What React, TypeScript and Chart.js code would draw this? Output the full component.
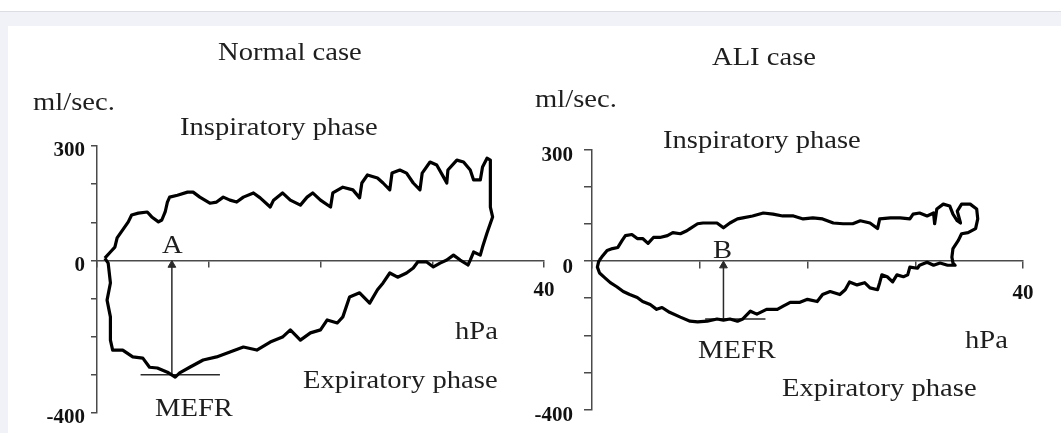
import React, { useEffect, useRef } from 'react';
import { Chart, registerables } from 'chart.js';

Chart.register(...registerables);

// ---------- data ----------
const pressureTicks = [0, 10, 20, 30, 40];
const pressureLabelled = [40];
const flowTicks = [300, 200, 100, 0, -100, -200, -300, -400];
const flowLabelled = [300, 0, -400];

// Normal case loop (hPa, ml/sec.)
const normalInspPressure = [0.7, 1.2, 1.6, 1.8, 2.3, 2.8, 3.1, 3.7, 4.5, 4.9, 5.5, 5.8, 6.1, 6.3, 6.5, 7.2, 8.1, 8.6, 9.2, 10.1, 10.7, 11.3, 11.9, 12.5, 13.1, 14.0, 14.6, 15.5, 15.8, 16.6, 17.3, 18.2, 18.8, 19.3, 20.0, 20.9, 21.1, 22.0, 22.9, 23.5, 23.7, 24.2, 25.1, 25.6, 26.2, 26.4, 27.1, 27.7, 28.3, 28.9, 29.1, 29.8, 30.4, 31.0, 31.3, 31.4, 32.2, 32.8, 33.4, 33.7, 34.3, 34.5, 34.9, 35.2, 35.2, 35.4, 34.9, 34.5, 34.3, 33.7, 33.4];
const normalInspFlow = [6, 22, 35, 59, 80, 101, 119, 124, 127, 114, 101, 106, 127, 153, 166, 171, 179, 179, 166, 150, 153, 166, 158, 153, 166, 177, 164, 140, 158, 177, 158, 145, 166, 177, 158, 140, 177, 192, 185, 164, 203, 224, 216, 203, 185, 229, 237, 229, 203, 185, 229, 258, 250, 219, 203, 237, 263, 258, 237, 211, 211, 245, 268, 263, 140, 114, 72, 35, 14, 22, 1];
const normalExpPressure = [33.2, 32.5, 31.9, 31.3, 30.7, 30.1, 29.5, 28.7, 28.3, 27.7, 26.9, 26.2, 25.6, 25.1, 24.4, 23.5, 22.6, 22.0, 21.5, 20.6, 20.0, 19.1, 18.2, 17.3, 16.6, 15.5, 14.3, 13.1, 11.9, 10.7, 9.5, 8.3, 7.4, 7.0, 6.3, 5.4, 4.7, 4.1, 3.2, 2.3, 1.4, 1.2, 1.2, 0.9, 1.2, 1.0, 0.7];
const normalExpFlow = [-12, 1, 14, 1, -7, -17, -4, -4, -20, -33, -44, -33, -59, -77, -112, -85, -96, -148, -164, -156, -182, -190, -209, -182, -201, -214, -235, -227, -240, -253, -261, -280, -295, -306, -293, -282, -280, -256, -253, -235, -235, -209, -148, -104, -59, -7, 6];
const normalMefrPressure = 6.7;
const normalMefrFlow = -300;
const normalMefrBar = [3.9, 11.0];

// ALI case loop (hPa, ml/sec.)
const aliInspPressure = [0.7, 0.9, 1.4, 1.9, 2.4, 2.8, 3.1, 3.7, 4.2, 4.7, 5.2, 5.7, 6.3, 7.0, 7.5, 8.2, 8.8, 9.1, 9.8, 10.3, 11.0, 11.6, 12.2, 12.8, 13.5, 14.0, 14.9, 15.9, 16.8, 17.7, 18.7, 19.6, 20.5, 21.4, 22.4, 23.3, 24.2, 24.9, 25.8, 26.5, 26.7, 27.7, 28.6, 29.5, 29.8, 30.4, 31.1, 31.7, 31.8, 32.0, 32.6, 33.2, 33.5, 33.9, 34.2, 33.9, 34.3, 35.1, 35.7, 35.8, 35.6, 34.9, 34.3, 34.0, 33.5, 33.4, 33.5, 33.7];
const aliInspFlow = [3, 11, 29, 34, 37, 56, 69, 72, 61, 61, 48, 64, 64, 69, 77, 74, 82, 88, 101, 103, 103, 103, 90, 103, 114, 117, 122, 130, 127, 122, 122, 114, 117, 114, 103, 101, 101, 109, 103, 88, 114, 117, 117, 114, 127, 130, 122, 130, 101, 141, 154, 149, 127, 109, 103, 135, 154, 154, 141, 114, 88, 77, 74, 56, 34, 11, -5, -11];
const aliExpPressure = [33.0, 32.3, 31.7, 31.1, 30.4, 30.2, 29.5, 29.3, 28.9, 28.3, 27.9, 27.4, 26.9, 26.7, 26.5, 25.8, 25.3, 24.6, 23.9, 23.5, 23.0, 22.1, 21.4, 20.9, 20.0, 19.3, 18.4, 17.7, 17.2, 16.2, 15.3, 14.7, 14.0, 13.5, 12.8, 12.2, 11.6, 10.7, 9.8, 9.1, 8.2, 7.2, 6.5, 6.0, 5.4, 4.7, 4.2, 3.5, 2.9, 2.3, 1.7, 1.2, 0.7, 0.5, 0.6, 0.7];
const aliExpFlow = [-11, -5, -11, -3, -11, -19, -16, -37, -42, -37, -56, -42, -37, -58, -77, -72, -58, -64, -56, -77, -90, -82, -90, -109, -103, -111, -111, -122, -130, -130, -143, -135, -156, -162, -156, -159, -156, -162, -164, -162, -151, -138, -125, -130, -117, -109, -98, -90, -82, -69, -58, -45, -32, -16, -3, 3];
const aliMefrPressure = 12.2;
const aliMefrFlow = -156;
const aliMefrBar = [10.5, 16.1];

const normalTexts = ['Normal case', 'ml/sec.', 'Inspiratory phase', 'A', 'MEFR', 'hPa', 'Expiratory phase'];
const aliTexts = ['ALI case', 'ml/sec.', 'Inspiratory phase', 'B', 'MEFR', 'hPa', 'Expiratory phase'];

// ---------- layout ----------
type Layout = {
  padding: { left: number; right: number; top: number; bottom: number };
  yAxisWidth: number;
  tickFont: number;
  yTickLen: number;
  yTickPad: number;
  yLabelOffset: number;
  xTickLen: number;
  xTickPad: number;
  arrowGap: number;
  textPos: [number, number][];
};

const leftLayout: Layout = {
  padding: { left: 37, right: 26, top: 146, bottom: 20 },
  yAxisWidth: 60,
  tickFont: 21,
  yTickLen: 6,
  yTickPad: 6,
  yLabelOffset: 5,
  xTickLen: 6,
  xTickPad: 12,
  arrowGap: 12,
  textPos: [[218, 60], [33, 110], [180, 135], [162, 253], [155, 416], [455, 339], [303, 388]],
};

const rightLayout: Layout = {
  padding: { left: 2, right: 38, top: 150, bottom: 19 },
  yAxisWidth: 70,
  tickFont: 21,
  yTickLen: 8,
  yTickPad: 11,
  yLabelOffset: 6,
  xTickLen: 7,
  xTickPad: 13,
  arrowGap: 12,
  textPos: [[192, 65], [15, 107], [143, 148], [193, 258], [178, 358], [445, 348], [262, 396]],
};

const zip = (xs: number[], ys: number[]) => xs.map((x, i) => ({ x, y: ys[i] }));

function makeConfig(
  inspP: number[], inspF: number[], expP: number[], expF: number[],
  mefrP: number, mefrF: number, bar: number[], texts: string[], L: Layout
): any {
  const loop = [...zip(inspP, inspF), ...zip(expP, expF)];
  const axisColor = '#4a4a4a';
  const textPlugin = {
    id: 'texts',
    afterDraw(chart: any) {
      const ctx = chart.ctx;
      ctx.save();
      ctx.fillStyle = '#1e1e1e';
      ctx.font = '26px "Liberation Serif", "Times New Roman", serif';
      ctx.textAlign = 'left';
      ctx.textBaseline = 'alphabetic';
      texts.forEach((t, i) => {
        const [x, y] = L.textPos[i];
        ctx.save();
        ctx.translate(x, y);
        ctx.scale(1.1, 1);
        ctx.fillText(t, 0, 0);
        ctx.restore();
      });
      ctx.restore();
    },
  };
  return {
    type: 'scatter',
    data: {
      datasets: [
        {
          data: loop,
          showLine: true,
          borderColor: '#000',
          borderWidth: 3.2,
          pointRadius: 0,
          tension: 0,
          borderJoinStyle: 'round',
        },
        {
          data: [{ x: mefrP, y: mefrF }, { x: mefrP, y: -L.arrowGap }],
          showLine: true,
          borderColor: '#2a2a2a',
          borderWidth: 1.5,
          pointRadius: [0, 4.5],
          pointStyle: 'triangle',
          pointBackgroundColor: '#2a2a2a',
          pointBorderColor: '#2a2a2a',
          pointBorderWidth: 1,
        },
        {
          data: [{ x: bar[0], y: mefrF }, { x: bar[1], y: mefrF }],
          showLine: true,
          borderColor: '#2a2a2a',
          borderWidth: 1.5,
          pointRadius: 0,
        },
      ],
    },
    options: {
      responsive: false,
      animation: false,
      devicePixelRatio: 1,
      layout: { padding: L.padding },
      plugins: { legend: { display: false }, tooltip: { enabled: false } },
      events: [],
      scales: {
        x: {
          type: 'linear',
          position: { y: 0 },
          min: pressureTicks[0],
          max: pressureTicks[pressureTicks.length - 1],
          afterBuildTicks: (s: any) => { s.ticks = pressureTicks.map((v) => ({ value: v })); },
          ticks: {
            autoSkip: false,
            maxRotation: 0,
            padding: L.xTickPad,
            color: '#111',
            font: { family: '"Liberation Serif", serif', size: L.tickFont, weight: 'bold' },
            callback: (v: number) => (pressureLabelled.includes(v) ? String(v) : ''),
          },
          grid: { drawOnChartArea: false, drawTicks: true, tickLength: L.xTickLen, color: axisColor, lineWidth: 1.5 },
          border: { display: true, color: axisColor, width: 1.5 },
        },
        y: {
          type: 'linear',
          position: 'left',
          min: flowTicks[flowTicks.length - 1],
          max: flowTicks[0],
          afterBuildTicks: (s: any) => { s.ticks = [...flowTicks].reverse().map((v) => ({ value: v })); },
          afterFit: (s: any) => { s.width = L.yAxisWidth; },
          ticks: {
            autoSkip: false,
            padding: L.yTickPad,
            labelOffset: L.yLabelOffset,
            color: '#111',
            font: { family: '"Liberation Serif", serif', size: L.tickFont, weight: 'bold' },
            callback: (v: number) => (flowLabelled.includes(v) ? String(v) : ''),
          },
          grid: { drawOnChartArea: false, drawTicks: true, tickLength: L.yTickLen, color: axisColor, lineWidth: 1.5 },
          border: { display: true, color: axisColor, width: 1.5 },
        },
      },
    },
    plugins: [textPlugin],
  };
}

export default function App() {
  const leftRef = useRef<HTMLCanvasElement>(null);
  const rightRef = useRef<HTMLCanvasElement>(null);

  useEffect(() => {
    const c1 = new Chart(
      leftRef.current as HTMLCanvasElement,
      makeConfig(normalInspPressure, normalInspFlow, normalExpPressure, normalExpFlow,
        normalMefrPressure, normalMefrFlow, normalMefrBar, normalTexts, leftLayout)
    );
    const c2 = new Chart(
      rightRef.current as HTMLCanvasElement,
      makeConfig(aliInspPressure, aliInspFlow, aliExpPressure, aliExpFlow,
        aliMefrPressure, aliMefrFlow, aliMefrBar, aliTexts, rightLayout)
    );
    return () => { c1.destroy(); c2.destroy(); };
  }, []);

  return (
    <div style={{ position: 'fixed', left: 0, top: 0, width: 1061, height: 433, background: '#fff', overflow: 'hidden' }}>
      <div style={{ position: 'absolute', left: 0, top: 11, width: '100%', height: 1, background: '#dcdde3' }} />
      <div style={{ position: 'absolute', left: 0, top: 12, width: '100%', height: 14, background: '#f1f2f7' }} />
      <div style={{ position: 'absolute', left: 0, top: 26, width: 8, height: 407, background: '#f1f2f7' }} />
      <canvas ref={leftRef} width={570} height={433} style={{ position: 'absolute', left: 0, top: 0 }} />
      <canvas ref={rightRef} width={541} height={433} style={{ position: 'absolute', left: 520, top: 0 }} />
    </div>
  );
}
